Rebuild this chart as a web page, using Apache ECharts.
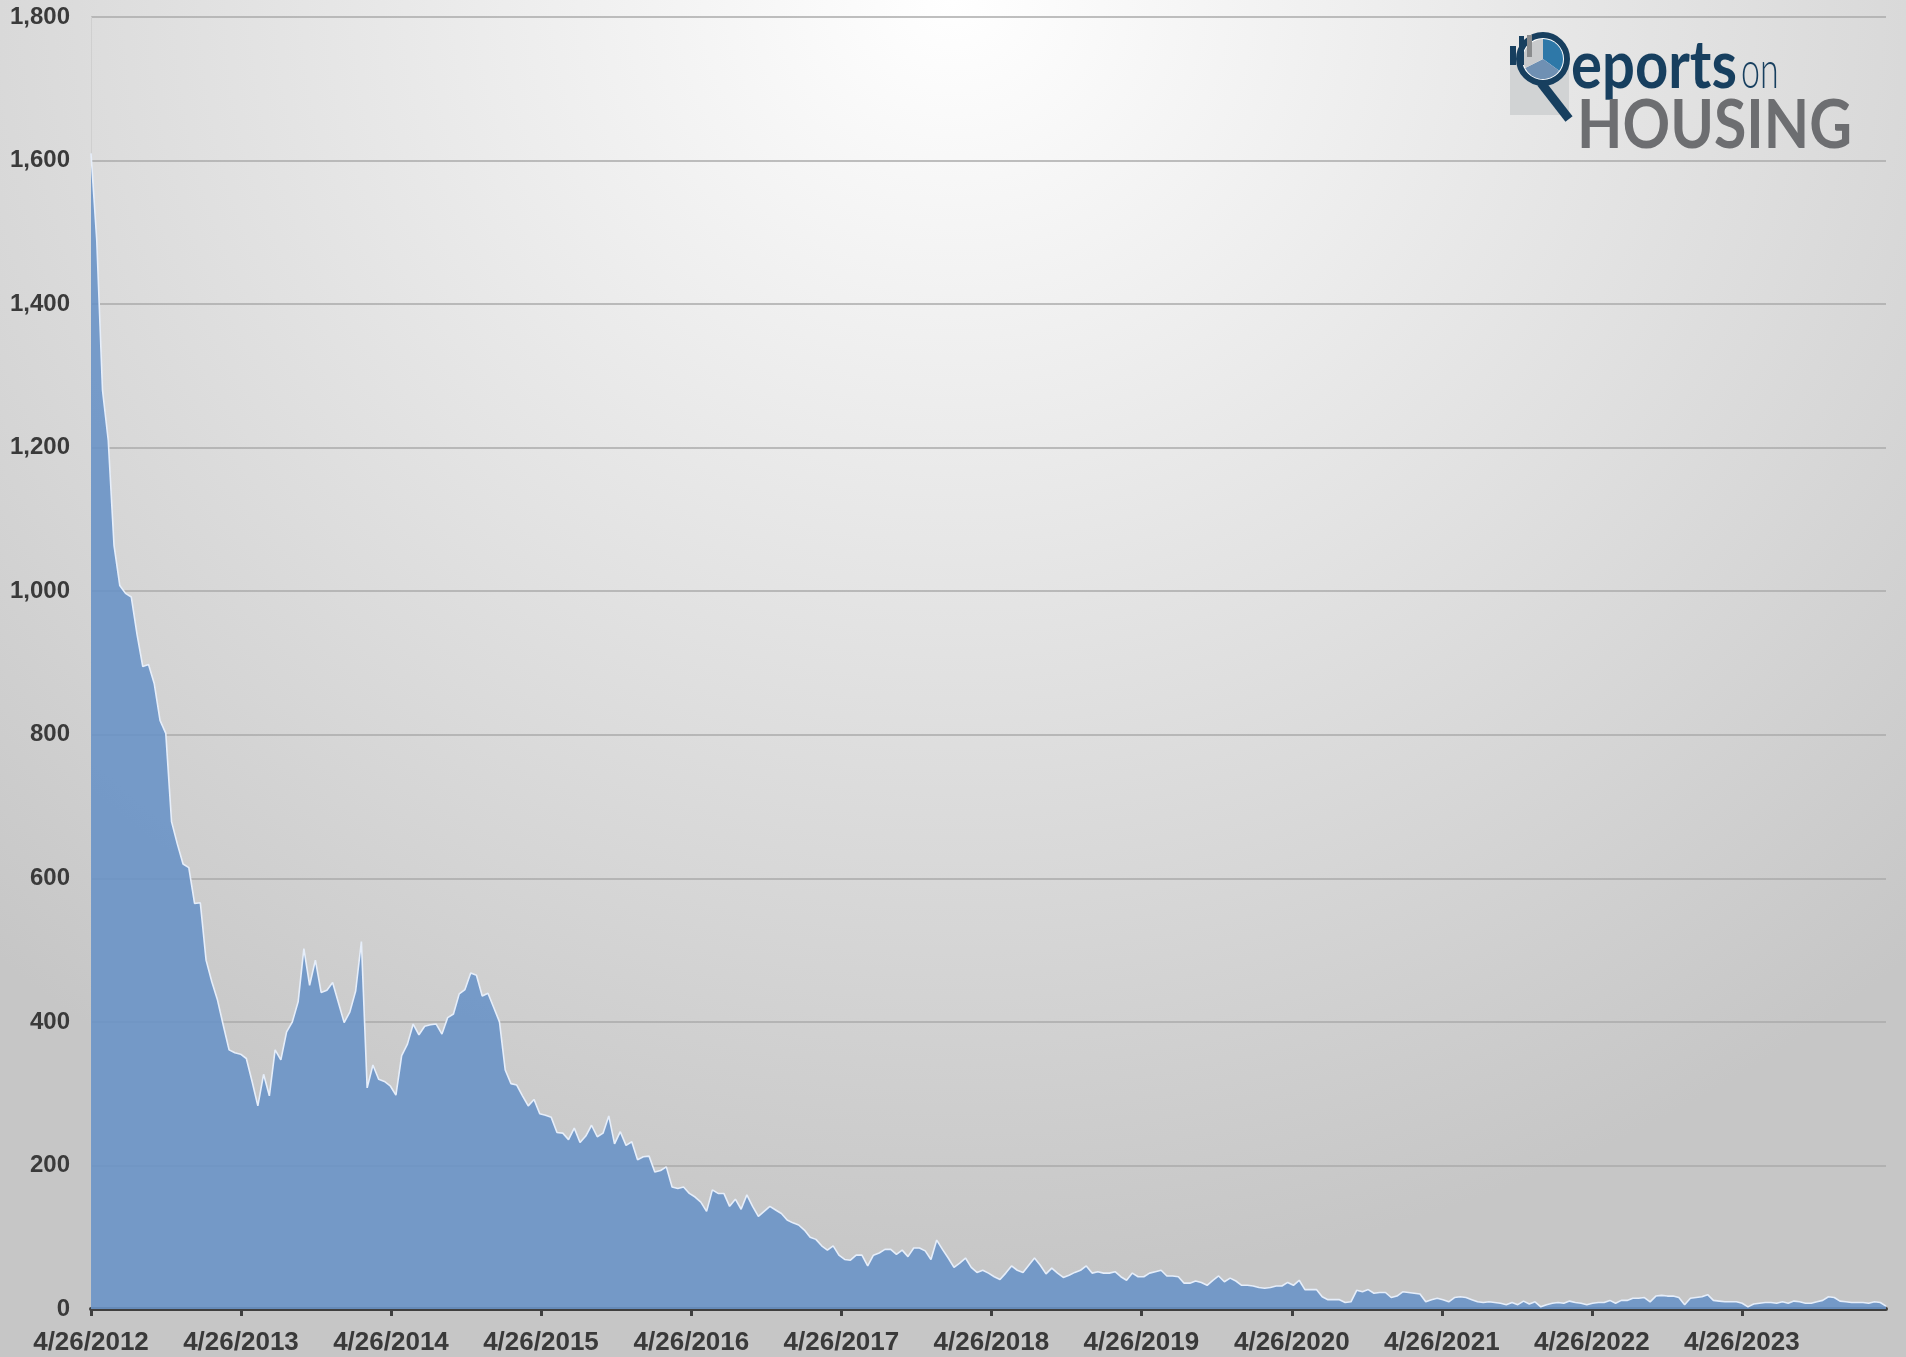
<!DOCTYPE html>
<html>
<head>
<meta charset="utf-8">
<title>Distressed inventory</title>
<script src="https://cdn.jsdelivr.net/npm/echarts@6/dist/echarts.min.js"></script>
<style>
  html, body { margin: 0; padding: 0; width: 1906px; height: 1357px; overflow: hidden; }
  body {
    background: radial-gradient(ellipse 75% 95% at 50% 0%, #ffffff 0%, #e8e8e8 40%, #d6d6d6 72%, #c6c6c6 100%);
  }
  #chart { width: 1906px; height: 1357px; }
</style>
</head>
<body>
<div id="chart"></div>
<script>
// biweekly readings, first one on 4/26/2012
const startDate = Date.UTC(2012, 3, 26);
const stepDays = 14;

const inventory = [
  1610, 1489, 1280, 1210, 1064, 1008, 997, 992, 940, 895,
  898, 871, 820, 802, 679, 648, 620, 615, 565, 566,
  486, 456, 430, 395, 361, 357, 355, 349, 317, 283,
  327, 297, 361, 347, 386, 400, 428, 502, 451, 486,
  441, 444, 455, 427, 399, 414, 443, 512, 308, 340,
  320, 317, 311, 298, 353, 369, 397, 382, 394, 396,
  397, 383, 406, 411, 439, 445, 468, 465, 436, 440,
  420, 400, 333, 314, 312, 297, 283, 292, 272, 270,
  267, 246, 245, 236, 252, 232, 241, 256, 240, 245,
  269, 230, 247, 228, 233, 208, 212, 213, 191, 193,
  198, 170, 168, 170, 161, 156, 149, 136, 166, 161,
  161, 143, 153, 139, 159, 143, 129, 136, 143, 138,
  133, 124, 120, 117, 110, 100, 97, 88, 82, 88,
  75, 69, 68, 75, 75, 60, 75, 78, 83, 83,
  76, 82, 73, 85, 85, 81, 69, 96, 83, 71,
  58, 64, 71, 58, 51, 54, 50, 45, 41, 50,
  60, 54, 51, 61, 71, 61, 49, 57, 50, 44,
  47, 51, 54, 60, 50, 52, 50, 50, 52, 45,
  40, 50, 45, 45, 50, 52, 54, 46, 46, 45,
  36, 36, 39, 37, 33, 40, 46, 38, 43, 39,
  33, 33, 32, 30, 29, 30, 32, 32, 37, 33,
  40, 27, 27, 27, 17, 13, 13, 13, 9, 10,
  26, 24, 27, 22, 23, 23, 16, 18, 24, 23,
  22, 21, 10, 13, 15, 13, 10, 16, 17, 16,
  13, 10, 9, 10, 9, 8, 6, 9, 6, 11,
  7, 10, 3, 6, 8, 9, 8, 11, 9, 8,
  6, 8, 9, 9, 12, 8, 12, 12, 15, 15,
  16, 10, 18, 19, 18, 18, 16, 6, 15, 16,
  17, 20, 12, 11, 10, 10, 10, 8, 3, 7,
  8, 9, 9, 8, 10, 8, 11, 10, 8, 8,
  10, 12, 17, 16, 11, 10, 9, 9, 9, 8,
  10, 9, 4
];

const tickYears = [2012, 2013, 2014, 2015, 2016, 2017, 2018, 2019, 2020, 2021, 2022, 2023];
const yTicks = [0, 200, 400, 600, 800, 1000, 1200, 1400, 1600, 1800];

const DAY = 86400000;
// x is counted in days since the first reading
const seriesData = inventory.map((v, i) => [i * stepDays, v]);
const tickDays = tickYears.map(y => Math.round((Date.UTC(y, 3, 26) - startDate) / DAY));
const endDay = seriesData[seriesData.length - 1][0];

const dayLabel = (v) => {
  const d = new Date(startDate + Math.round(v) * DAY);
  return (d.getUTCMonth() + 1) + '/' + d.getUTCDate() + '/' + d.getUTCFullYear();
};

const labelFont = {
  fontFamily: 'Liberation Sans, Arial, sans-serif',
  fontWeight: 'bold',
  color: '#3a3a3a'
};

const navy = '#173f5f';
const logoFont = 'Lato, Open Sans, sans-serif';

const chart = echarts.init(document.getElementById('chart'));

const option = {
  backgroundColor: 'transparent',
  animation: false,
  grid: {
    left: 91,
    right: 20,
    top: 17,
    bottom: 48
  },
  xAxis: {
    type: 'value',
    min: 0,
    max: endDay,
    axisLine: {
      show: true,
      lineStyle: { color: '#3f3f3f', width: 4 }
    },
    axisTick: {
      show: true,
      customValues: tickDays,
      length: 7,
      lineStyle: { color: '#3f3f3f', width: 3 }
    },
    axisLabel: {
      ...labelFont,
      fontSize: 26,
      customValues: tickDays,
      margin: 21,
      formatter: dayLabel
    },
    splitLine: { show: false }
  },
  yAxis: {
    type: 'value',
    min: yTicks[0],
    max: yTicks[yTicks.length - 1],
    interval: 200,
    axisLine: { show: true, lineStyle: { color: '#cfcfcf', width: 1 } },
    axisTick: { show: false },
    axisLabel: {
      ...labelFont,
      fontSize: 24,
      margin: 21,
      formatter: (v) => v.toLocaleString('en-US')
    },
    splitLine: {
      lineStyle: { color: '#aaaaaa', width: 1.5 }
    }
  },
  series: [{
    type: 'line',
    data: seriesData,
    showSymbol: false,
    lineStyle: { color: '#e6eefa', width: 1.6 },
    areaStyle: { color: 'rgb(106,148,198)', opacity: 0.9 },
    z: 2
  }],
  graphic: [
    // logo: Reports on HOUSING
    { type: 'rect', shape: { x: 1510, y: 63, width: 59, height: 52 }, style: { fill: '#d1d3d4' } },
    { type: 'circle', shape: { cx: 1543, cy: 59, r: 24 }, style: { fill: '#ffffff', stroke: navy, lineWidth: 6 } },
    { type: 'sector', shape: { cx: 1543, cy: 59, r: 20, startAngle: -Math.PI / 2, endAngle: Math.PI / 5 }, style: { fill: '#2e78a8' } },
    { type: 'sector', shape: { cx: 1543, cy: 59, r: 20, startAngle: Math.PI / 5, endAngle: Math.PI * 0.85 }, style: { fill: '#6f90b3' } },
    { type: 'sector', shape: { cx: 1543, cy: 59, r: 20, startAngle: Math.PI * 0.85, endAngle: Math.PI * 1.5 }, style: { fill: '#c9cbcd' } },
    { type: 'rect', shape: { x: 1510, y: 46, width: 6, height: 19 }, style: { fill: navy } },
    { type: 'rect', shape: { x: 1519, y: 36, width: 5, height: 29 }, style: { fill: navy } },
    { type: 'rect', shape: { x: 1527, y: 35, width: 5, height: 22 }, style: { fill: '#8a8c8e' } },
    { type: 'line', shape: { x1: 1541, y1: 83, x2: 1569, y2: 119 }, style: { stroke: navy, lineWidth: 9 } },
    {
      type: 'text', x: 1571, y: 33, scaleY: 1.15,
      style: { text: 'eports', font: 'bold 58px ' + logoFont, fill: navy, verticalAlign: 'top' }
    },
    {
      type: 'text', x: 1741, y: 46, scaleY: 1.5,
      style: { text: 'on', font: '300 34px ' + logoFont, fill: navy, verticalAlign: 'top' }
    },
    {
      type: 'text', x: 1577, y: 93, scaleY: 1.14,
      style: { text: 'HOUSING', font: 'bold 59px ' + logoFont, fill: '#6d6e71', verticalAlign: 'top' }
    }
  ]
};

chart.setOption(option);
</script>
</body>
</html>
